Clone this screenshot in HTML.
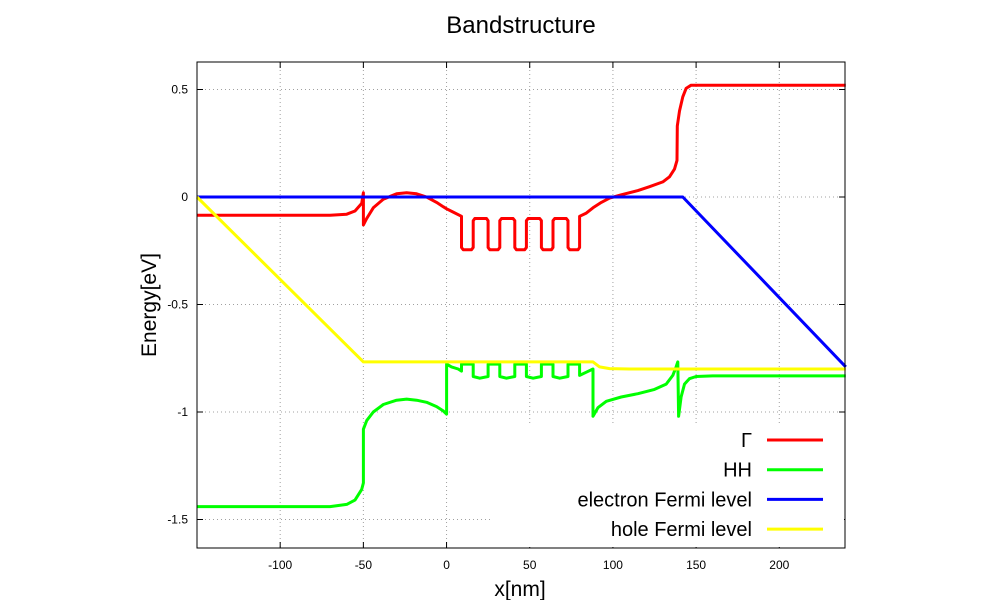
<!DOCTYPE html>
<html><head><meta charset="utf-8"><style>
body{margin:0;background:#fff;}
svg{display:block;font-family:"Liberation Sans",sans-serif;}
</style></head><body>
<svg id="chart" width="1000" height="600" viewBox="0 0 1000 600">
<text x="521" y="33" font-size="24" text-anchor="middle">Bandstructure</text>
<text transform="translate(156,305) rotate(-90)" font-size="21" text-anchor="middle">Energy[eV]</text>
<text x="520" y="596" font-size="21" text-anchor="middle">x[nm]</text>
<g id="grid"></g>
<g id="ticks"></g>
<g id="series"></g>
<g id="legend"></g>
<rect x="197" y="62" width="648" height="486" fill="none" stroke="#000" stroke-width="1"/>
</svg>
<script>
const xTicks=[-100,-50,0,50,100,150,200];
const yTicks=[0.5,0,-0.5,-1,-1.5];
const yTickLabels=["0.5","0","-0.5","-1","-1.5"];
const seriesNames=["Γ","HH","electron Fermi level","hole Fermi level"];
const seriesColors=["#ff0000","#00ff00","#0000ff","#ffff00"];
const gammaBand=[[-150,-0.085],[-70,-0.085],[-60,-0.08],[-55,-0.065],[-51,-0.03],[-50,0.02],[-50,-0.13],[-48,-0.1],[-44,-0.05],[-38,-0.01],[-30,0.015],[-24,0.02],[-18,0.015],[-12,0.0],[-6,-0.025],[-2,-0.045],[0,-0.055],[4,-0.07],[9,-0.09],
[9,-0.235],[10,-0.245],[15,-0.245],[16,-0.235],[16,-0.11],[17,-0.1],[24,-0.1],[25,-0.11],
[25,-0.235],[26,-0.245],[31,-0.245],[32,-0.235],[32,-0.11],[33,-0.1],[40,-0.1],[41,-0.11],
[41,-0.235],[42,-0.245],[47,-0.245],[48,-0.235],[48,-0.11],[49,-0.1],[56,-0.1],[57,-0.11],
[57,-0.235],[58,-0.245],[63,-0.245],[64,-0.235],[64,-0.11],[65,-0.1],[72,-0.1],[73,-0.11],
[73,-0.235],[74,-0.245],[79,-0.245],[80,-0.235],[80,-0.09],[84,-0.075],[88,-0.05],[93,-0.025],[98,-0.005],[105,0.01],[115,0.03],[122,0.048],[130,0.07],[134,0.094],[137,0.13],[138.5,0.17],[138.7,0.33],[140,0.4],[142,0.466],[144,0.505],[147,0.52],[240,0.52]];
const hhBand=[[-150,-1.44],[-70,-1.44],[-60,-1.43],[-55,-1.41],[-51,-1.36],[-50,-1.33],[-50,-1.08],[-48,-1.04],[-44,-1.0],[-38,-0.965],[-30,-0.945],[-24,-0.94],[-18,-0.945],[-12,-0.955],[-6,-0.975],[-2,-0.995],[0,-1.01],
[0,-0.777],[3,-0.79],[7,-0.8],[9,-0.81],[9,-0.777],[16,-0.777],[16,-0.835],[20,-0.843],[25,-0.835],
[25,-0.777],[32,-0.777],[32,-0.835],[36,-0.843],[41,-0.835],
[41,-0.777],[48,-0.777],[48,-0.835],[52,-0.843],[57,-0.835],
[57,-0.777],[64,-0.777],[64,-0.835],[68,-0.843],[73,-0.835],
[73,-0.777],[80,-0.777],[80,-0.83],[84,-0.815],[88,-0.8],[88,-1.02],[91,-0.98],[96,-0.95],[105,-0.93],[115,-0.915],[125,-0.895],[132,-0.87],[136,-0.83],[138,-0.79],[139,-0.767],[139.5,-1.02],[141,-0.93],[143,-0.87],[146,-0.845],[150,-0.835],[160,-0.832],[240,-0.832]];
const electronFermi=[[-150,0],[142,0],[240,-0.79]];
const holeFermi=[[-150,0],[-50,-0.767],[88,-0.767],[92,-0.79],[98,-0.798],[110,-0.8],[240,-0.8]];
const allSeries=[gammaBand,hhBand,electronFermi,holeFermi];
const seriesKeys=["gamma-band-line","hh-band-line","electron-fermi-line","hole-fermi-line"];

const X0=197,X1=845,Y0=62,Y1=548,xmin=-150,xmax=239.5;
const sx=v=>X0+(v-xmin)/(xmax-xmin)*(X1-X0);
const sy=v=>197-v*215;
const NS="http://www.w3.org/2000/svg";
function mk(tag,attrs,parent){const e=document.createElementNS(NS,tag);for(const k in attrs)e.setAttribute(k,attrs[k]);parent.appendChild(e);return e;}
const grid=document.getElementById('grid'),ticks=document.getElementById('ticks'),ser=document.getElementById('series'),leg=document.getElementById('legend');
xTicks.forEach(t=>{const x=sx(t);
 const g=mk('line',{x1:x,x2:x,y1:Y0,y2:Y1,stroke:'#a0a0a0','stroke-dasharray':'1,3'},grid);
 
 
 mk('line',{x1:x,x2:x,y1:Y1,y2:Y1-6,stroke:'#000'},ticks);
 mk('line',{x1:x,x2:x,y1:Y0,y2:Y0+6,stroke:'#000'},ticks);
 const l=mk('text',{x:x,y:Y1+21,'font-size':12,'text-anchor':'middle'},ticks);l.textContent=t;
 
 });
yTicks.forEach((t,i)=>{const y=sy(t);
 const g=mk('line',{x1:X0,x2:X1,y1:y,y2:y,stroke:'#a0a0a0','stroke-dasharray':'1,3'},grid);
 
 
 mk('line',{x1:X0,x2:X0+6,y1:y,y2:y,stroke:'#000'},ticks);
 mk('line',{x1:X1,x2:X1-6,y1:y,y2:y,stroke:'#000'},ticks);
 const l=mk('text',{x:X0-9,y:y+4,'font-size':12,'text-anchor':'end'},ticks);l.textContent=yTickLabels[i];
 
 });
allSeries.forEach((d,i)=>{
 const p=mk('polyline',{points:d.map(q=>sx(q[0]).toFixed(1)+','+sy(q[1]).toFixed(1)).join(' '),fill:'none',stroke:seriesColors[i],'stroke-width':3,'stroke-linejoin':'round'},ser);
 
 });
const bg=mk('rect',{x:492,y:424,width:352,height:123,fill:'#fff'},leg);


seriesNames.forEach((n,i)=>{const y=440+i*29.7;
 const t=mk('text',{x:752,y:y+7,'font-size':20,'text-anchor':'end'},leg);t.textContent=n;
 
 
 const l=mk('line',{x1:767,x2:823,y1:y,y2:y,stroke:seriesColors[i],'stroke-width':3},leg);
 
 });
</script>
</body></html>
